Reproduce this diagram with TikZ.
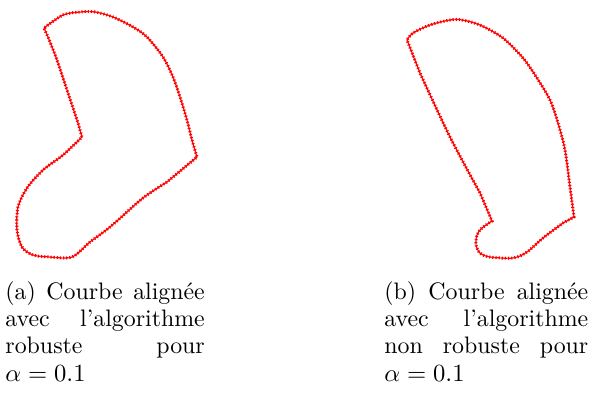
\documentclass[tikz,border=0pt]{standalone}
\usepackage{fontspec}

\tikzset{
  % a row of small red crosses, made of two dash patterns
  plusalong/.style={draw=red, line width=0.55pt, dash pattern=on 1.25pt off 0.15pt},
  plusacross/.style={draw=red, line width=1.35pt, dash pattern=on 0.5pt off 0.9pt, dash phase=0.975pt},
  crosscurve/.style={plusalong, postaction={plusacross}},
  captext/.style={anchor=north west, inner sep=0pt, align=justify,
    font={\fontsize{10.6}{12.1}\selectfont\hyphenpenalty=10000}}
}

\begin{document}
\begin{tikzpicture}[x=0.4444pt, y=-0.4444pt]
  \useasboundingbox (0,0) rectangle (592,394);
  % (a) robust alignment
  \path[crosscurve]
    plot[smooth] coordinates {(44,28) (63,15) (80,12) (95,12) (113,17) (133,27) (147,37)
      (163,57) (173,77) (180,97) (187,120) (192,140) (197,157)}
    -- plot[smooth] coordinates {(167,182) (143,198) (110,227) (90,242) (72,257)
      (50,257) (33,255) (22,247) (17,230) (18,207) (27,188) (43,170) (63,155) (82,137)}
    -- plot[smooth] coordinates {(78,123) (67,90) (57,60) (48,37)} -- cycle;
  % (b) non robust alignment
  \path[crosscurve]
    plot[smooth] coordinates {(407,40) (413,33) (430,25) (450,20) (462,20) (480,25) (503,38)
      (523,58) (537,78) (550,100) (558,123) (565,150) (570,187) (574,217)}
    -- plot[smooth] coordinates {(563,223) (543,238) (527,252) (513,258) (490,257)
      (480,253) (476,245) (477,235) (482,228) (492,221)}
    -- plot[smooth] coordinates {(480,193) (450,137) (420,73)} -- cycle;
  % captions
  \node[captext, text width=88.6pt] (capa) at (5,281)
    {(a) Courbe alignée avec l'algorithme robuste pour $\alpha=0.1$};
  \node[captext, text width=90.6pt] (capb) at (384,281)
    {(b) Courbe alignée avec l'algorithme non robuste pour $\alpha=0.1$};
\end{tikzpicture}
\end{document}
